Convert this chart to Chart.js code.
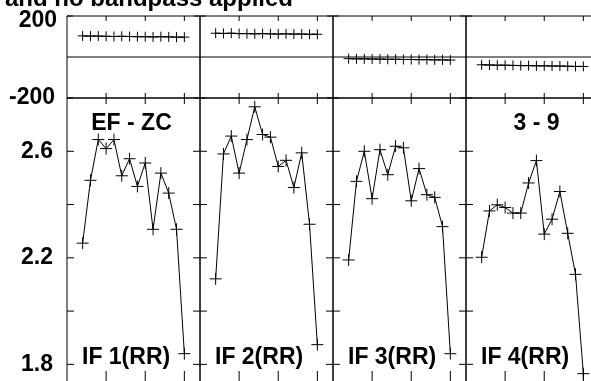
<!DOCTYPE html>
<html>
<head>
<meta charset="utf-8">
<script src="https://cdn.jsdelivr.net/npm/chart.js@4"></script>
<style>
  body { margin: 0; background: #fff; overflow: hidden; }
</style>
</head>
<body>
<canvas id="chart" width="610" height="395"></canvas>
<script>
// sample index, same for every panel
const xs = [2, 3, 4, 5, 6, 7, 8, 9, 10, 11, 12, 13, 14, 15];

// upper strip, range -200..200
const top1 = [103, 102, 102, 101, 100, 101, 100, 99, 99, 98, 99, 98, 97, 97];
const top2 = [116, 115, 116, 114, 114, 113, 114, 113, 112, 113, 112, 112, 111, 111];
const top3 = [-8, -9, -9, -10, -10, -11, -11, -12, -12, -13, -13, -14, -14, -15];
const top4 = [-38, -39, -40, -40, -41, -42, -42, -43, -43, -44, -44, -45, -46, -46];

// lower strip
const if1 = [2.255, 2.491, 2.644, 2.610, 2.644, 2.508, 2.572, 2.468, 2.556, 2.307, 2.518, 2.443, 2.307, 1.840];
const if2 = [2.121, 2.590, 2.657, 2.518, 2.644, 2.767, 2.663, 2.653, 2.543, 2.566, 2.464, 2.594, 2.326, 1.874];
const if3 = [2.192, 2.487, 2.600, 2.422, 2.606, 2.512, 2.619, 2.613, 2.414, 2.535, 2.437, 2.427, 2.317, 1.840];
const if4 = [2.202, 2.376, 2.399, 2.389, 2.368, 2.368, 2.481, 2.565, 2.289, 2.345, 2.449, 2.292, 2.138, 1.765];

const panelNames = ["IF 1(RR)", "IF 2(RR)", "IF 3(RR)", "IF 4(RR)"];
const xTicks = [5, 10, 15];
const topTicks = [-200, 200];
const botTicks = [1.8, 2.0, 2.2, 2.4, 2.6];
const botLabels = [1.8, 2.2, 2.6];
const title = "d and no bandpass applied";

const FONT = '"Liberation Sans", Arial, sans-serif';

function pts(vals) {
  return vals.map((v, i) => ({ x: xs[i], y: v }));
}

function series(vals, n, yId, r) {
  return {
    data: pts(vals),
    xAxisID: "x" + n,
    yAxisID: yId,
    borderColor: "#000",
    borderWidth: 1,
    pointStyle: "cross",
    pointRadius: r,
    pointBorderColor: "#000",
    pointBorderWidth: 1,
    tension: 0,
    fill: false
  };
}

const datasets = [
  series(top1, 1, "yTop", 5), series(top2, 2, "yTop", 5),
  series(top3, 3, "yTop", 5), series(top4, 4, "yTop", 5),
  series(if1, 1, "yBot", 6), series(if2, 2, "yBot", 6),
  series(if3, 3, "yBot", 6), series(if4, 4, "yBot", 6)
];

// fixed axis width, and no extra room for overhanging labels
function fixFit(s) {
  s.width = 67;
  s.paddingTop = 0;
  s.paddingBottom = 0;
}

// four x axes side by side, two y axes stacked
const scales = {};
// yBot first: left boxes are laid out in reverse order
scales.yBot = {
  type: "linear", position: "left", stack: "v", stackWeight: 285,
  min: 1.73, max: 2.8,
  grid: { display: false, drawTicks: false }, border: { display: false },
  afterBuildTicks: s => { s.ticks = botTicks.map(v => ({ value: v })); },
  afterFit: fixFit,
  ticks: {
    padding: 14, color: "#000",
    font: { family: FONT, size: 23, weight: "bold" },
    callback: v => botLabels.some(b => Math.abs(b - v) < 1e-6) ? v.toFixed(1) : ""
  }
};
scales.yTop = {
  type: "linear", position: "left", stack: "v", stackWeight: 82,
  min: -200, max: 200,
  grid: { display: false, drawTicks: false }, border: { display: false },
  ticks: { display: false },
  afterFit: fixFit
};
for (let i = 1; i <= 4; i++) {
  scales["x" + i] = {
    type: "linear", position: "bottom", stack: "h", stackWeight: 1,
    min: 0, max: 17, display: false
  };
}

// frames, inward tick marks, zero line and the texts
const framePlugin = {
  id: "frames",
  afterDraw(chart) {
    const ctx = chart.ctx;
    const yT = chart.scales.yTop, yB = chart.scales.yBot;
    const area = chart.chartArea;
    ctx.save();
    ctx.strokeStyle = "#000";
    ctx.lineWidth = 1;
    ctx.beginPath();
    const rows = [
      { s: yT, ticks: topTicks, yLen: 6, topLen: 5, botLen: 5 },
      { s: yB, ticks: botTicks, yLen: 7, topLen: 6, botLen: 12 }
    ];
    for (let i = 1; i <= 4; i++) {
      const sx = chart.scales["x" + i];
      const l = sx.left, r = sx.right;
      rows.forEach(row => {
        const t = row.s.top, b = row.s.bottom;
        ctx.rect(l, t, r - l, b - t);
        xTicks.forEach(v => {
          const px = sx.getPixelForValue(v);
          ctx.moveTo(px, t); ctx.lineTo(px, t + row.topLen);
          ctx.moveTo(px, b); ctx.lineTo(px, b - row.botLen);
        });
        row.ticks.forEach(v => {
          const py = row.s.getPixelForValue(v);
          ctx.moveTo(l, py); ctx.lineTo(l + row.yLen, py);
          ctx.moveTo(r, py); ctx.lineTo(r - row.yLen, py);
        });
      });
    }
    const zy = yT.getPixelForValue(0);
    ctx.moveTo(area.left, zy);
    ctx.lineTo(area.right, zy);
    ctx.stroke();

    ctx.fillStyle = "#000";
    ctx.font = "bold 24px " + FONT;
    ctx.textAlign = "right";
    ctx.textBaseline = "alphabetic";
    ctx.fillText(title, 293, 6);

    ctx.font = "bold 23px " + FONT;
    ctx.textBaseline = "middle";
    ctx.fillText("200", 57, yT.getPixelForValue(200) + 5);
    ctx.fillText("-200", 55, yT.getPixelForValue(-200));

    ctx.textBaseline = "alphabetic";
    ctx.textAlign = "left";
    const base = yB.getPixelForValue(1.8);
    for (let i = 1; i <= 4; i++) {
      const sx = chart.scales["x" + i];
      ctx.fillText(panelNames[i - 1], sx.left + 15, base);
    }
    ctx.textAlign = "center";
    const x1 = chart.scales.x1, x4 = chart.scales.x4;
    ctx.fillText("EF - ZC", (x1.left + x1.right) / 2 - 2, yB.top + 32);
    ctx.fillText("3 - 9", (x4.left + x4.right) / 2 + 4, yB.top + 32);
    ctx.restore();
  }
};

new Chart(document.getElementById("chart"), {
  type: "line",
  data: { datasets: datasets },
  options: {
    responsive: false,
    animation: false,
    layout: { padding: { left: 0, top: 16, right: 11, bottom: 12 } },
    plugins: { legend: { display: false }, tooltip: { enabled: false } },
    scales: scales
  },
  plugins: [framePlugin]
});
</script>
</body>
</html>
